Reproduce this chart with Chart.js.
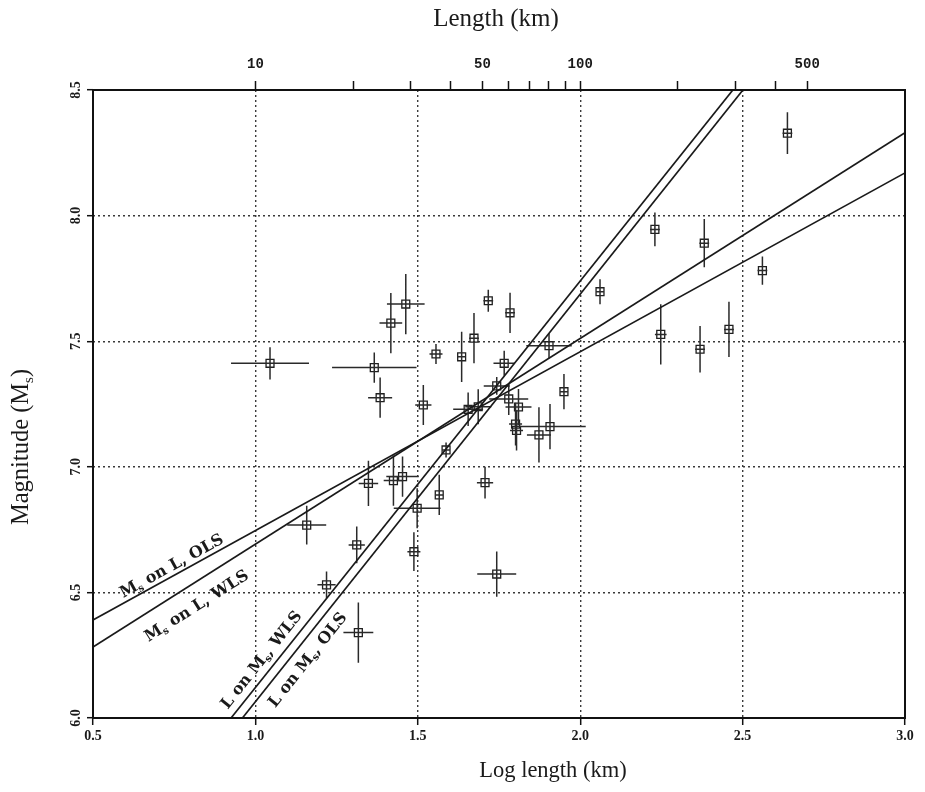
<!DOCTYPE html>
<html><head><meta charset="utf-8">
<script src="https://cdn.jsdelivr.net/npm/chart.js@4/dist/chart.umd.min.js"></script>
<style>html,body{margin:0;padding:0;background:#fff;}#wrap{width:925px;height:792px;}</style>
</head><body><div id="wrap"><canvas id="c" width="925" height="792"></canvas></div>
<script>
// ---- data ----
const logLength = [1.045,1.366,1.384,1.517,1.556,1.463,1.417,1.717,1.784,1.673,1.635,2.061,1.904,1.766,1.743,1.950,1.780,1.810,1.655,1.686,1.801,1.804,1.873,1.907,1.587,1.707,1.566,1.158,1.348,1.425,1.453,1.498,1.312,1.488,1.219,1.743,1.317,2.230,2.382,2.561,2.248,2.369,2.458,2.638];
const magnitude = [7.412,7.395,7.275,7.246,7.449,7.648,7.572,7.661,7.613,7.512,7.438,7.697,7.482,7.412,7.322,7.299,7.270,7.238,7.229,7.239,7.170,7.145,7.127,7.160,7.067,6.937,6.888,6.768,6.934,6.945,6.961,6.835,6.689,6.662,6.530,6.573,6.340,7.945,7.890,7.781,7.527,7.468,7.547,8.328];
const logLengthErr = [0.12,0.13,0.037,0.025,0.02,0.058,0.035,0.015,0.015,0.015,0.012,0.012,0.07,0.033,0.04,0.012,0.06,0.04,0.046,0.04,0.02,0.02,0.037,0.11,0.012,0.025,0.012,0.06,0.03,0.03,0.05,0.072,0.025,0.02,0.028,0.06,0.046,0.015,0.015,0.015,0.018,0.015,0.015,0.015];
const magnitudeErr = [0.064,0.06,0.08,0.08,0.04,0.12,0.12,0.044,0.08,0.1,0.1,0.05,0.05,0.05,0.035,0.07,0.064,0.072,0.067,0.07,0.085,0.08,0.11,0.09,0.03,0.063,0.08,0.077,0.09,0.1,0.08,0.08,0.073,0.077,0.053,0.09,0.12,0.067,0.096,0.056,0.12,0.093,0.11,0.083];

// regression lines: endpoints [logL, Ms]
const fitMsOnL_OLS_x = [0.5, 3.0], fitMsOnL_OLS_y = [6.39, 8.17];
const fitMsOnL_WLS_x = [0.5, 3.0], fitMsOnL_WLS_y = [6.283, 8.33];
const fitLOnMs_WLS_x = [0.925, 2.470], fitLOnMs_WLS_y = [6.0, 8.5];
const fitLOnMs_OLS_x = [0.960, 2.501], fitLOnMs_OLS_y = [6.0, 8.5];

// ticks
const bottomTicks = [0.5, 1.0, 1.5, 2.0, 2.5, 3.0];
const leftTicks = [6.0, 6.5, 7.0, 7.5, 8.0, 8.5];
const topTickLengths = [10,20,30,40,50,60,70,80,90,100,200,300,400,500];
const topLabelLengths = [10,50,100,500];

// ---- build datasets ----
const pts = logLength.map((x,i)=>({x, y: magnitude[i]}));
const vBars = [], hBars = [];
logLength.forEach((x,i)=>{
  const y = magnitude[i];
  vBars.push({x, y: y - magnitudeErr[i]}, {x, y: y + magnitudeErr[i]}, {x, y: null});
  hBars.push({x: x - logLengthErr[i], y}, {x: x + logLengthErr[i], y}, {x: x + logLengthErr[i], y: null});
});
const mk = (xs, ys) => xs.map((x,i)=>({x, y: ys[i]}));
const lineStyle = {showLine:true, pointRadius:0, borderColor:'#1a1a1a', borderWidth:1.7, tension:0, fill:false};
const barStyle = {showLine:true, pointRadius:0, borderColor:'#2a2a2a', borderWidth:1.5, spanGaps:false, tension:0, fill:false};

const SERIF = '"Liberation Serif", "Times New Roman", serif';

function drawRich(ctx, parts, cx, cy, angle, size, family, weight){
  ctx.save();
  ctx.translate(cx, cy);
  ctx.rotate(angle);
  ctx.textBaseline = 'middle';
  ctx.textAlign = 'left';
  let total = 0;
  parts.forEach(p=>{ ctx.font = `${weight} ${p.sub? Math.round(size*0.62): size}px ${family}`; p.w = ctx.measureText(p.t).width; total += p.w; });
  let x = -total/2;
  parts.forEach(p=>{
    ctx.font = `${weight} ${p.sub? Math.round(size*0.62): size}px ${family}`;
    ctx.fillText(p.t, x, p.sub ? size*0.28 : 0);
    x += p.w;
  });
  ctx.restore();
}

const decor = {
  id: 'decor',
  afterDraw(chart){
    const ctx = chart.ctx, a = chart.chartArea;
    const sx = chart.scales.x, sy = chart.scales.y;
    ctx.save();
    ctx.strokeStyle = '#111'; ctx.lineWidth = 2;
    ctx.strokeRect(a.left, a.top, a.right - a.left, a.bottom - a.top);
    ctx.fillStyle = '#1a1a1a';
    // axis titles
    drawRich(ctx, [{t:'Length (km)'}], 496, 19, 0, 25, SERIF, 'normal');
    drawRich(ctx, [{t:'Log length (km)'}], 553, 771, 0, 22.5, SERIF, 'normal');
    drawRich(ctx, [{t:'Magnitude (M'},{t:'s',sub:true},{t:')'}], 22, 447, -Math.PI/2, 24.5, SERIF, 'normal');
    // line labels
    const ang = (xs, ys) => Math.atan2(sy.getPixelForValue(ys[1]) - sy.getPixelForValue(ys[0]), sx.getPixelForValue(xs[1]) - sx.getPixelForValue(xs[0]));
    const LF = '"DejaVu Serif", serif';
    const lab = (parts, xv, yv, angle) => drawRich(ctx, parts, sx.getPixelForValue(xv), sy.getPixelForValue(yv), angle, 16, LF, 'bold');
    lab([{t:'M'},{t:'s',sub:true},{t:' on L, OLS'}], 0.743, 6.603, ang(fitMsOnL_OLS_x, fitMsOnL_OLS_y));
    lab([{t:'M'},{t:'s',sub:true},{t:' on L, WLS'}], 0.820, 6.444, ang(fitMsOnL_WLS_x, fitMsOnL_WLS_y));
    lab([{t:'L on M'},{t:'s',sub:true},{t:', WLS'}], 1.020, 6.230, ang(fitLOnMs_WLS_x, fitLOnMs_WLS_y));
    lab([{t:'L on M'},{t:'s',sub:true},{t:', OLS'}], 1.162, 6.230, ang(fitLOnMs_OLS_x, fitLOnMs_OLS_y));
    ctx.restore();
  }
};

const gridCol = (edges) => (c) => (c.tick && edges.some(e => Math.abs(e - c.tick.value) < 1e-6)) ? 'rgba(0,0,0,0)' : '#3a3a3a';

new Chart(document.getElementById('c'), {
  type: 'scatter',
  data: { datasets: [
    Object.assign({label:'Ms on L, OLS', data: mk(fitMsOnL_OLS_x, fitMsOnL_OLS_y)}, lineStyle),
    Object.assign({label:'Ms on L, WLS', data: mk(fitMsOnL_WLS_x, fitMsOnL_WLS_y)}, lineStyle),
    Object.assign({label:'L on Ms, WLS', data: mk(fitLOnMs_WLS_x, fitLOnMs_WLS_y)}, lineStyle),
    Object.assign({label:'L on Ms, OLS', data: mk(fitLOnMs_OLS_x, fitLOnMs_OLS_y)}, lineStyle),
    Object.assign({label:'Ms error', data: vBars}, barStyle),
    Object.assign({label:'Log L error', data: hBars}, barStyle),
    {label:'Earthquakes', data: pts, pointStyle:'rect', pointRadius:5.6, pointBorderWidth:1.3, pointBackgroundColor:'rgba(255,255,255,0)', pointBorderColor:'#1f1f1f', showLine:false}
  ]},
  options: {
    responsive:false, animation:false, devicePixelRatio:1,
    layout:{padding:{left:0, right:20, top:0, bottom:0}},
    plugins:{legend:{display:false}, tooltip:{enabled:false}},
    scales:{
      x:{type:'linear', position:'bottom', min:0.5, max:3.0,
        afterBuildTicks: s => { s.ticks = bottomTicks.map(v=>({value:v})); },
        ticks:{callback: v => Number(v).toFixed(1), autoSkip:false, maxRotation:0, padding:3, color:'#1a1a1a', font:{family:SERIF, size:14, weight:'bold'}},
        grid:{color: gridCol([0.5,3.0]), lineWidth:1.4, tickLength:7, tickColor:'#111', tickWidth:1.5},
        border:{display:false, dash:[2,3]},
        afterFit: s => { s.height = 74; }
      },
      x2:{type:'linear', position:'top', min:0.5, max:3.0,
        afterBuildTicks: s => { s.ticks = topTickLengths.map(L=>({value:Math.log10(L)})); },
        ticks:{callback: v => { const L = Math.round(Math.pow(10, v)); return topLabelLengths.includes(L) ? String(L) : ''; }, autoSkip:false, maxRotation:0, padding:8, color:'#1a1a1a', font:{family:'"Liberation Mono", monospace', size:14, weight:'bold'}},
        grid:{drawOnChartArea:false, tickLength:9, tickColor:'#111', tickWidth:1.5},
        border:{display:false},
        afterFit: s => { s.height = 90; }
      },
      y:{type:'linear', position:'left', min:6.0, max:8.5,
        afterBuildTicks: s => { s.ticks = leftTicks.map(v=>({value:v})); },
        ticks:{callback: v => Number(v).toFixed(1), autoSkip:false, minRotation:90, maxRotation:90, crossAlign:'center', padding:2, color:'#1a1a1a', font:{family:SERIF, size:14, weight:'bold'}},
        grid:{color: gridCol([6.0,8.5]), lineWidth:1.4, tickLength:6, tickColor:'#111', tickWidth:1.5},
        border:{display:false, dash:[2,3]},
        afterFit: s => { s.width = 93; }
      }
    }
  },
  plugins:[decor]
});
</script>
</body></html>
